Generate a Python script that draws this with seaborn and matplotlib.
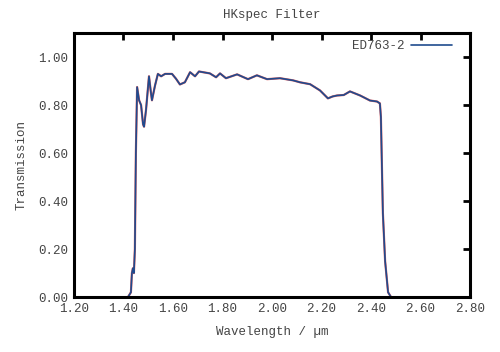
import pandas as pd
import seaborn as sns
import matplotlib
matplotlib.use("Agg")
import matplotlib.pyplot as plt

# filter transmission curve
wavelength = [1.418, 1.430, 1.434, 1.438, 1.442, 1.446, 1.450, 1.455, 1.463, 1.471,
              1.479, 1.483, 1.491, 1.503, 1.511, 1.515, 1.527, 1.539, 1.552, 1.568,
              1.596, 1.612, 1.628, 1.648, 1.669, 1.689, 1.705, 1.749, 1.774, 1.790,
              1.814, 1.859, 1.903, 1.939, 1.980, 2.032, 2.085, 2.113, 2.154, 2.194,
              2.226, 2.245, 2.263, 2.290, 2.315, 2.356, 2.396, 2.424, 2.436, 2.440,
              2.444, 2.448, 2.457, 2.469, 2.481]
transmission = [0.0, 0.02, 0.10, 0.12, 0.10, 0.20, 0.60, 0.875, 0.82, 0.80,
                0.72, 0.71, 0.78, 0.92, 0.85, 0.82, 0.88, 0.93, 0.92, 0.93,
                0.93, 0.91, 0.886, 0.895, 0.937, 0.92, 0.94, 0.932, 0.916, 0.932,
                0.912, 0.928, 0.908, 0.924, 0.908, 0.912, 0.903, 0.895, 0.887, 0.861,
                0.828, 0.836, 0.840, 0.842, 0.857, 0.840, 0.819, 0.815, 0.807, 0.75,
                0.55, 0.35, 0.15, 0.02, 0.0]

x_ticks = [1.2, 1.4, 1.6, 1.8, 2.0, 2.2, 2.4, 2.6, 2.8]
y_ticks = [0.0, 0.2, 0.4, 0.6, 0.8, 1.0]

df = pd.DataFrame({"wl": wavelength, "tr": transmission})

sns.set_style("white")
plt.rcParams["font.family"] = ["Liberation Mono", "DejaVu Sans Mono"]
txt_color = "#444444"

fig = plt.figure(figsize=(5.0, 3.52), dpi=100)
ax = fig.add_axes([0.148, 0.156, 0.792, 0.75])

# red trace underneath, blue on top (as in the original)
sns.lineplot(data=df, x="wl", y="tr", ax=ax, color="#e06060", lw=1.6, legend=False)
sns.lineplot(data=df, x="wl", y="tr", ax=ax, color="#1f4b8e", lw=1.2, label="ED763-2")

ax.set_xlim(1.2, 2.8)
ax.set_ylim(0, 1.1)
ax.set_xticks(x_ticks)
ax.set_yticks(y_ticks)
ax.set_xticklabels([f"{v:.2f}" for v in x_ticks])
ax.set_yticklabels([f"{v:.2f}" for v in y_ticks])
ax.tick_params(direction="in", length=5, width=2, top=True, right=True,
               labelsize=9, colors="black", labelcolor=txt_color, pad=4)
for s in ax.spines.values():
    s.set_linewidth(2.2)
    s.set_color("black")

ax.set_xlabel("Wavelength / µm", fontsize=9, color=txt_color, labelpad=8)
ax.set_ylabel("Transmission", fontsize=9, color=txt_color, labelpad=8)
ax.set_title("HKspec Filter", fontsize=9, color=txt_color, pad=11)

leg = ax.legend(loc="upper right", bbox_to_anchor=(0.972, 1.0), frameon=False,
                markerfirst=False, fontsize=9, handlelength=3.3, handletextpad=0.5,
                borderaxespad=0.35, borderpad=0.2)
for t in leg.get_texts():
    t.set_color(txt_color)

plt.savefig("out.png", dpi=100)
